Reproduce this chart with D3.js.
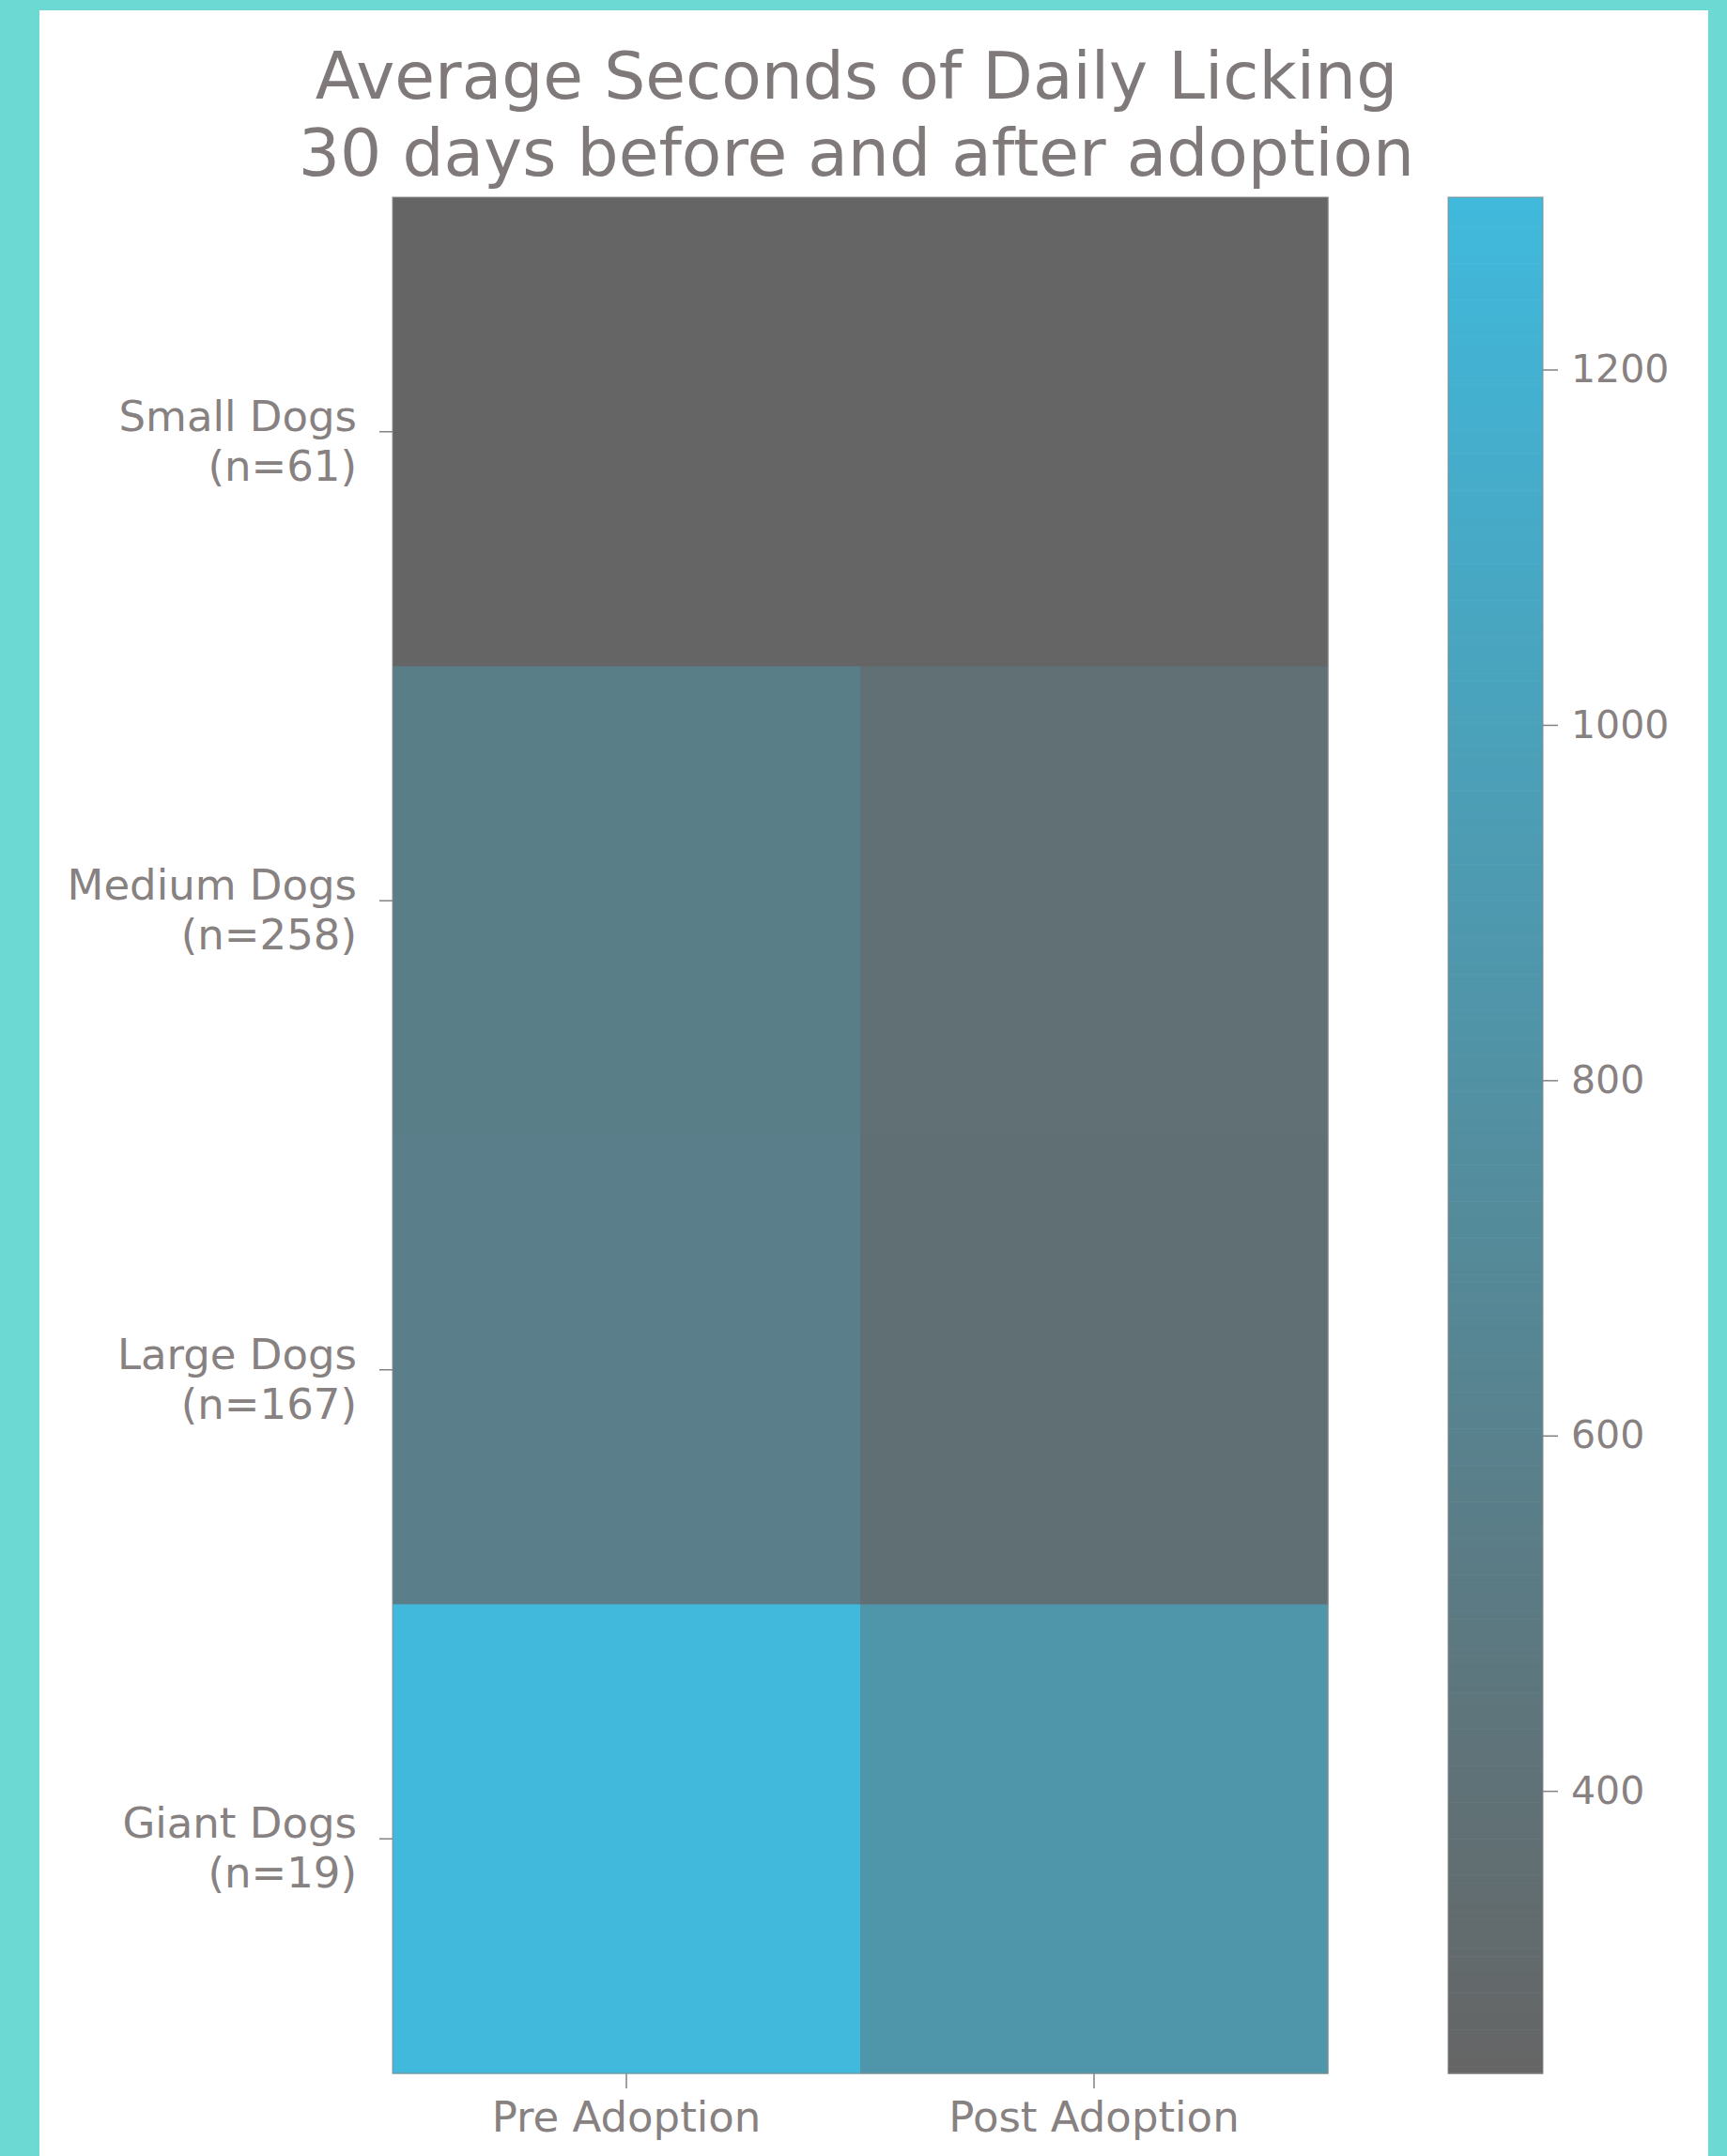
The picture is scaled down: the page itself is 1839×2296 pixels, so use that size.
<!DOCTYPE html>
<html>
<head>
<meta charset="utf-8">
<script src="https://cdn.jsdelivr.net/npm/d3@7"></script>
<style>
  html, body { margin: 0; padding: 0; background: #6cd9d3; }
  svg { display: block; }
</style>
</head>
<body>
<svg id="chart" width="1839" height="2296"></svg>
<script>
// ---- data ----
const sizes = ["Small Dogs", "Medium Dogs", "Large Dogs", "Giant Dogs"];
const counts = [61, 258, 167, 19];
const periods = ["Pre Adoption", "Post Adoption"];
const preValues = [246, 556, 566, 1297];
const postValues = [241, 380, 372, 862];
const colorbarTicks = [400, 600, 800, 1000, 1200];
const titleLines = ["Average Seconds of Daily Licking", "30 days before and after adoption"];

// ---- layout ----
const W = 1839, H = 2296;
const hm = { left: 418, right: 1414, top: 210, bottom: 2208 };
const cb = { left: 1542, right: 1643 };
const textColor = "#878181";
const font = "DejaVu Sans";

const svg = d3.select("#chart");
svg.append("rect").attr("x", 0).attr("y", 0).attr("width", W).attr("height", H).attr("fill", "#6cd9d3");
svg.append("rect").attr("x", 42).attr("y", 11).attr("width", 1819 - 42).attr("height", H - 11).attr("fill", "#ffffff");

const cells = [];
sizes.forEach((s, i) => {
  cells.push({ row: s, col: periods[0], v: preValues[i] });
  cells.push({ row: s, col: periods[1], v: postValues[i] });
});
const allVals = preValues.concat(postValues);
const ext = d3.extent(allVals);

const color = d3.scaleLinear().domain(ext).range(["#656565", "#40b9dc"]).interpolate(d3.interpolateRgb);

const x = d3.scaleBand().domain(periods).range([hm.left, hm.right]);
const y = d3.scaleBand().domain(sizes).range([hm.top, hm.bottom]);

// cells
svg.append("g").selectAll("rect").data(cells).join("rect")
  .attr("x", d => x(d.col))
  .attr("y", d => y(d.row))
  .attr("width", x.bandwidth() + 0.5)
  .attr("height", y.bandwidth() + 0.5)
  .attr("fill", d => color(d.v));

svg.append("rect").attr("x", hm.left).attr("y", hm.top)
  .attr("width", hm.right - hm.left).attr("height", hm.bottom - hm.top)
  .attr("fill", "none").attr("stroke", "#8a8a8a").attr("stroke-opacity", 0.6).attr("stroke-width", 1.5);

// y axis
const yAxis = svg.append("g").attr("transform", `translate(${hm.left},0)`)
  .call(d3.axisLeft(y).tickSize(14).tickPadding(24).tickFormat(""));
yAxis.select(".domain").remove();
yAxis.selectAll(".tick line").attr("stroke", textColor).attr("stroke-width", 1.5);
yAxis.selectAll(".tick").each(function(d, i) {
  const t = d3.select(this).append("text")
    .attr("x", -38).attr("fill", textColor)
    .attr("font-family", font).attr("font-size", 45)
    .attr("text-anchor", "end");
  t.append("tspan").attr("x", -38).attr("y", -1).text(d);
  t.append("tspan").attr("x", -38).attr("y", 52).text(`(n=${counts[sizes.indexOf(d)]})`);
});

// x axis
const xAxis = svg.append("g").attr("transform", `translate(0,${hm.bottom})`)
  .call(d3.axisBottom(x).tickSize(16).tickPadding(14));
xAxis.select(".domain").remove();
xAxis.selectAll(".tick line").attr("stroke", textColor).attr("stroke-width", 1.5);
xAxis.selectAll(".tick text").attr("fill", textColor)
  .attr("font-family", font).attr("font-size", 45).attr("dy", "0.71em");

// colorbar
const cy = d3.scaleLinear().domain(ext).range([hm.bottom, hm.top]);
const steps = d3.range(0, 256).map(k => ext[0] + (ext[1] - ext[0]) * k / 256);
const stepH = (ext[1] - ext[0]) / 256;
svg.append("g").selectAll("rect").data(steps).join("rect")
  .attr("x", cb.left)
  .attr("width", cb.right - cb.left)
  .attr("y", d => cy(d + stepH))
  .attr("height", d => cy(d) - cy(d + stepH) + 0.6)
  .attr("fill", d => color(d + stepH / 2));
svg.append("rect").attr("x", cb.left).attr("y", hm.top)
  .attr("width", cb.right - cb.left).attr("height", hm.bottom - hm.top)
  .attr("fill", "none").attr("stroke", "#8a8a8a").attr("stroke-opacity", 0.6).attr("stroke-width", 1.5);

const cAxis = svg.append("g").attr("transform", `translate(${cb.right},0)`)
  .call(d3.axisRight(cy).tickValues(colorbarTicks).tickSize(16).tickPadding(14).tickFormat(d3.format("d")));
cAxis.select(".domain").remove();
cAxis.selectAll(".tick line").attr("stroke", textColor).attr("stroke-width", 1.5);
cAxis.selectAll(".tick text").attr("fill", textColor)
  .attr("font-family", font).attr("font-size", 41);

// title
const tcx = (hm.left + hm.right) / 2 - 4;
svg.append("text").attr("x", tcx).attr("y", 105)
  .attr("text-anchor", "middle").attr("font-family", font).attr("font-size", 69.5)
  .attr("fill", "#7f7979").text(titleLines[0]);
svg.append("text").attr("x", tcx).attr("y", 187)
  .attr("text-anchor", "middle").attr("font-family", font).attr("font-size", 69.5)
  .attr("fill", "#7f7979").text(titleLines[1]);
</script>
</body>
</html>
